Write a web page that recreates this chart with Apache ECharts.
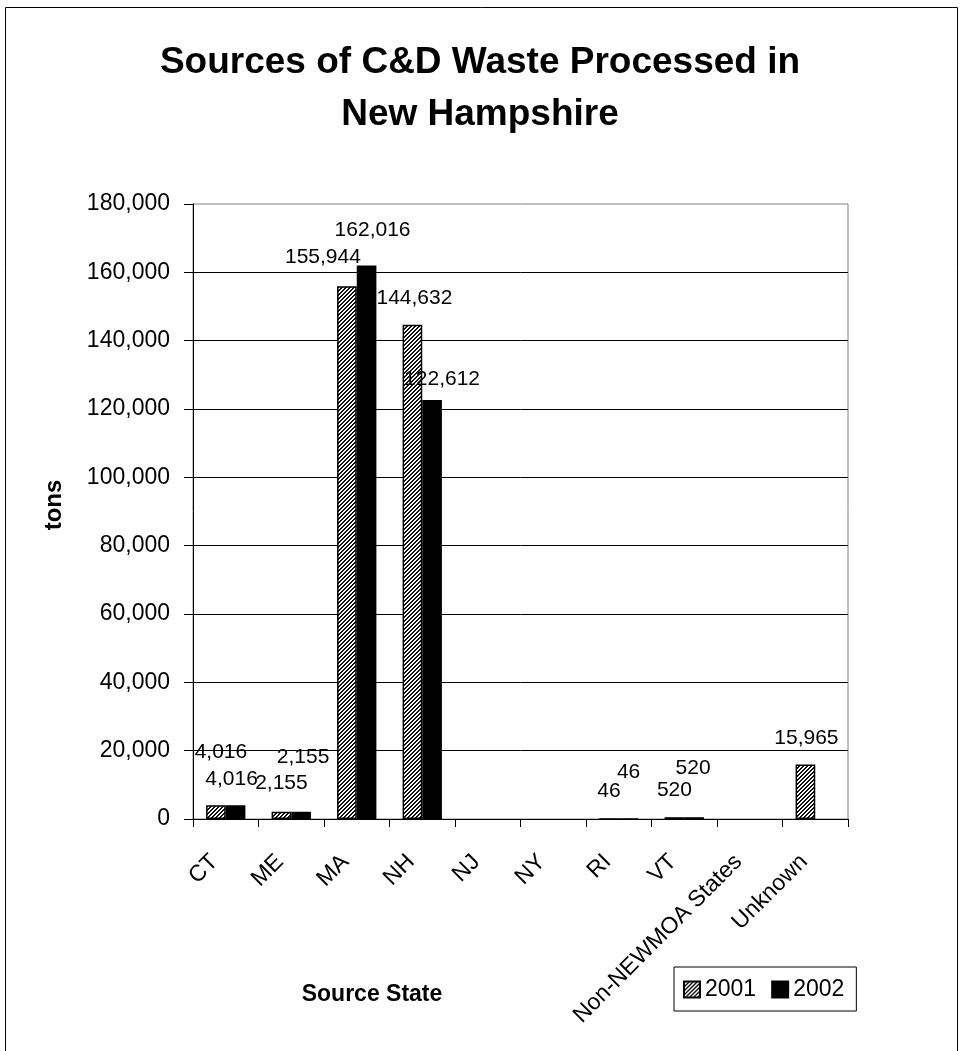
<!DOCTYPE html>
<html>
<head>
<meta charset="utf-8">
<script src="https://cdn.jsdelivr.net/npm/echarts@6/dist/echarts.min.js"></script>
<style>
  html, body { margin: 0; padding: 0; background: #fff; }
  #chart { width: 960px; height: 1051px; }
</style>
</head>
<body>
<div id="chart"></div>
<script>
// Source states and tonnage by year (blank cells = null)
const states = ['CT', 'ME', 'MA', 'NH', 'NJ', 'NY', 'RI', 'VT', 'Non-NEWMOA States', 'Unknown'];
const tons2001 = [4016, 2155, 155944, 144632, null, null, 46, 520, null, 15965];
const tons2002 = [4016, 2155, 162016, 122612, null, null, 46, 520, null, null];
const yTicks = [0, 20000, 40000, 60000, 80000, 100000, 120000, 140000, 160000, 180000];

// Hand-placed value label nudges [dx, dy] relative to the bar top
const labelNudge2001 = [[5, -38], [0, -13], [-24, -13], [2, -11], [0, 0], [0, 0], [0, -11], [0, -12], [0, 0], [1, -11]];
const labelNudge2002 = [[-4, -11], [2, -39], [6, -20], [10, -5], [0, 0], [0, 0], [0, -30], [-1, -34], [0, 0], [0, 0]];

const FONT = "'Liberation Sans', Arial, sans-serif";

// Fine diagonal hatch used for the 2001 bars
function hatchPattern() {
  const c = document.createElement('canvas');
  c.width = 4; c.height = 4;
  const g = c.getContext('2d');
  g.fillStyle = '#ffffff';
  g.fillRect(0, 0, 4, 4);
  g.fillStyle = '#111111';
  for (let x = 0; x < 4; x++) {
    for (let y = 0; y < 4; y++) {
      if ((x + y) % 4 < 2) g.fillRect(x, y, 1, 1);
    }
  }
  return c;
}

const fmt = v => Number(v).toLocaleString('en-US');

function buildData(values, nudges) {
  return values.map((v, i) => ({
    value: v,
    label: { offset: nudges[i] }
  }));
}

const labelStyle = {
  show: true,
  position: 'top',
  fontFamily: FONT,
  fontSize: 21,
  color: '#000',
  formatter: p => (p.value == null ? '' : fmt(p.value))
};

const chart = echarts.init(document.getElementById('chart'), null, { renderer: 'canvas' });

chart.setOption({
  animation: false,
  backgroundColor: '#fff',
  title: {
    text: 'Sources of C&D Waste Processed in\nNew Hampshire',
    left: 'center',
    top: 32,
    textStyle: { fontFamily: FONT, fontSize: 37, fontWeight: 'bold', color: '#000', lineHeight: 52 }
  },
  legend: {
    left: 674,
    top: 967,
    orient: 'horizontal',
    padding: [11, 12, 10, 9],
    itemGap: 15,
    itemWidth: 16,
    itemHeight: 16,
    icon: 'rect',
    borderColor: '#000',
    borderWidth: 1,
    textStyle: { fontFamily: FONT, fontSize: 23, color: '#000' },
    data: ['2001', '2002']
  },
  grid: {
    left: 193,
    right: 112,
    top: 204,
    bottom: 232,
    show: true,
    borderColor: '#808080',
    borderWidth: 1,
    containLabel: false
  },
  xAxis: {
    type: 'category',
    data: states,
    axisLine: { lineStyle: { color: '#000', width: 1 } },
    axisTick: { show: true, length: 8, lineStyle: { color: '#000' } },
    axisLabel: {
      rotate: 45,
      margin: 28,
      interval: 0,
      padding: [0, 16, 0, 0],
      fontFamily: FONT,
      fontSize: 23,
      color: '#000'
    }
  },
  yAxis: {
    type: 'value',
    min: yTicks[0],
    max: yTicks[yTicks.length - 1],
    interval: yTicks[1] - yTicks[0],
    axisLine: { show: true, lineStyle: { color: '#000', width: 1 } },
    axisTick: { show: true, length: 9, lineStyle: { color: '#000' } },
    splitLine: { show: true, showMaxLine: false, lineStyle: { color: '#000', width: 1 } },
    axisLabel: {
      margin: 23,
      fontFamily: FONT,
      fontSize: 23,
      color: '#000',
      formatter: v => fmt(v)
    }
  },
  series: [
    {
      name: '2001',
      type: 'bar',
      barGap: '0%',
      barCategoryGap: '40%',
      data: buildData(tons2001, labelNudge2001),
      itemStyle: {
        color: { image: hatchPattern(), repeat: 'repeat' },
        borderColor: '#000',
        borderWidth: 1.5
      },
      label: labelStyle
    },
    {
      name: '2002',
      type: 'bar',
      barGap: '0%',
      barCategoryGap: '40%',
      data: buildData(tons2002, labelNudge2002),
      itemStyle: { color: '#000', borderColor: '#000', borderWidth: 1.5 },
      label: labelStyle
    }
  ],
  graphic: [
    {
      type: 'rect',
      shape: { x: 5.5, y: 7.5, width: 952, height: 1080 },
      style: { fill: null, stroke: '#000', lineWidth: 1 },
      silent: true,
      z: 100
    },
    {
      type: 'text',
      x: 54,
      y: 505,
      rotation: Math.PI / 2,
      style: { text: 'tons', fontFamily: FONT, fontSize: 24, fontWeight: 'bold', fill: '#000', align: 'center', verticalAlign: 'middle' }
    },
    {
      type: 'text',
      x: 372,
      y: 995,
      style: { text: 'Source State', fontFamily: FONT, fontSize: 23, fontWeight: 'bold', fill: '#000', align: 'center', verticalAlign: 'middle' }
    }
  ]
});
</script>
</body>
</html>
